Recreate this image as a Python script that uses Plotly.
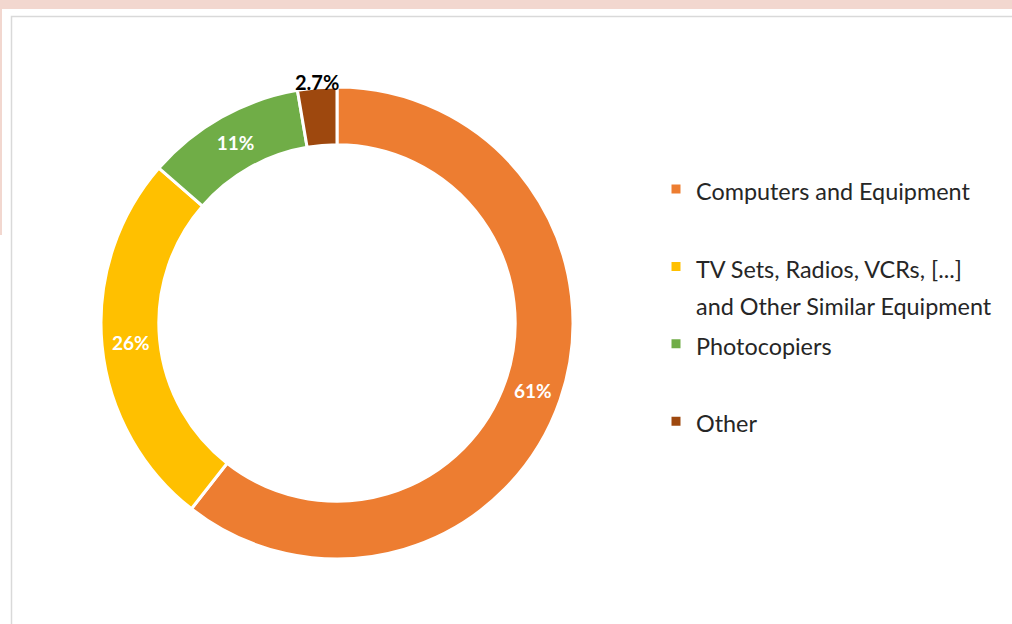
import math
import plotly.graph_objects as go

categories = ["Computers and Equipment",
              "TV Sets, Radios, VCRs, [...]<br>and Other Similar Equipment",
              "Photocopiers",
              "Other"]
values = [61, 26, 11, 2.7]
colors = ["#ED7D31", "#FFC000", "#70AD47", "#9E480E"]
text_positions = ["inside", "inside", "inside", "none"]


def span(s):
    return "<br>".join("<span style='font-size:23.4px'>%s</span>" % p for p in s.split("<br>"))


# legend labels padded with blank lines to mimic the spacing of the original
legend_labels = [span(categories[0]) + "<br> ", span(categories[1]),
                 span(categories[2]) + "<br> ", span(categories[3])]

W, H = 1012, 624
dom_x = [101 / W, 573 / W]
dom_y = [1 - 559 / H, 1 - 87 / H]

fig = go.Figure(go.Pie(
    labels=legend_labels,
    values=values,
    hole=0.755,
    sort=False,
    direction="clockwise",
    rotation=0,
    marker=dict(colors=colors, line=dict(color="white", width=3)),
    texttemplate="<b>%{value}%</b>",
    textposition=text_positions,
    insidetextorientation="horizontal",
    insidetextfont=dict(color="white", size=19, family="Lato"),
    domain=dict(x=dom_x, y=dom_y),
    automargin=False,
    hoverinfo="label+value",
))

# label for the small slice, placed just outside the ring at its mid-angle
total = sum(values)
cx = (dom_x[0] + dom_x[1]) / 2 * W
cy = (1 - (dom_y[0] + dom_y[1]) / 2) * H
r_out = (dom_x[1] - dom_x[0]) * W / 2
annotations = []
cum = 0
for v, pos in zip(values, text_positions):
    if pos == "none":
        mid = (cum + v / 2) / total * 2 * math.pi
        r = r_out + 6
        px = cx + r * math.sin(mid)
        py = cy - r * math.cos(mid)
        annotations.append(dict(
            x=px / W, y=1 - py / H, xref="paper", yref="paper",
            text="<b>%g%%</b>" % v, showarrow=False,
            xanchor="center", yanchor="middle",
            font=dict(color="black", size=20, family="Lato"),
        ))
    cum += v

fig.update_layout(
    width=W, height=H,
    margin=dict(l=0, r=0, t=0, b=0),
    paper_bgcolor="white",
    plot_bgcolor="white",
    font=dict(family="Lato", color="#262626"),
    annotations=annotations,
    legend=dict(
        x=656 / W, y=1 - 164 / H, xanchor="left", yanchor="top",
        font=dict(size=28.6, family="Lato", color="#262626"),
        valign="top",
        itemwidth=30,
        bgcolor="rgba(0,0,0,0)",
    ),
    shapes=[
        dict(type="rect", xref="paper", yref="paper", x0=0, x1=1, y0=1 - 9 / H, y1=1,
             fillcolor="#F2D7CF", line=dict(width=0), layer="below"),
        dict(type="rect", xref="paper", yref="paper", x0=0, x1=2 / W, y0=1 - 235 / H, y1=1,
             fillcolor="#F2D7CF", line=dict(width=0), layer="below"),
        dict(type="rect", xref="paper", yref="paper", x0=11.5 / W, x1=1.01, y0=-0.01, y1=1 - 16.5 / H,
             fillcolor="rgba(0,0,0,0)", line=dict(color="#D9D9D9", width=1.5), layer="below"),
    ],
)

fig.write_html("out.html", config={"displayModeBar": False},
               post_script="document.body.style.margin='0';document.body.style.overflow='hidden';")
